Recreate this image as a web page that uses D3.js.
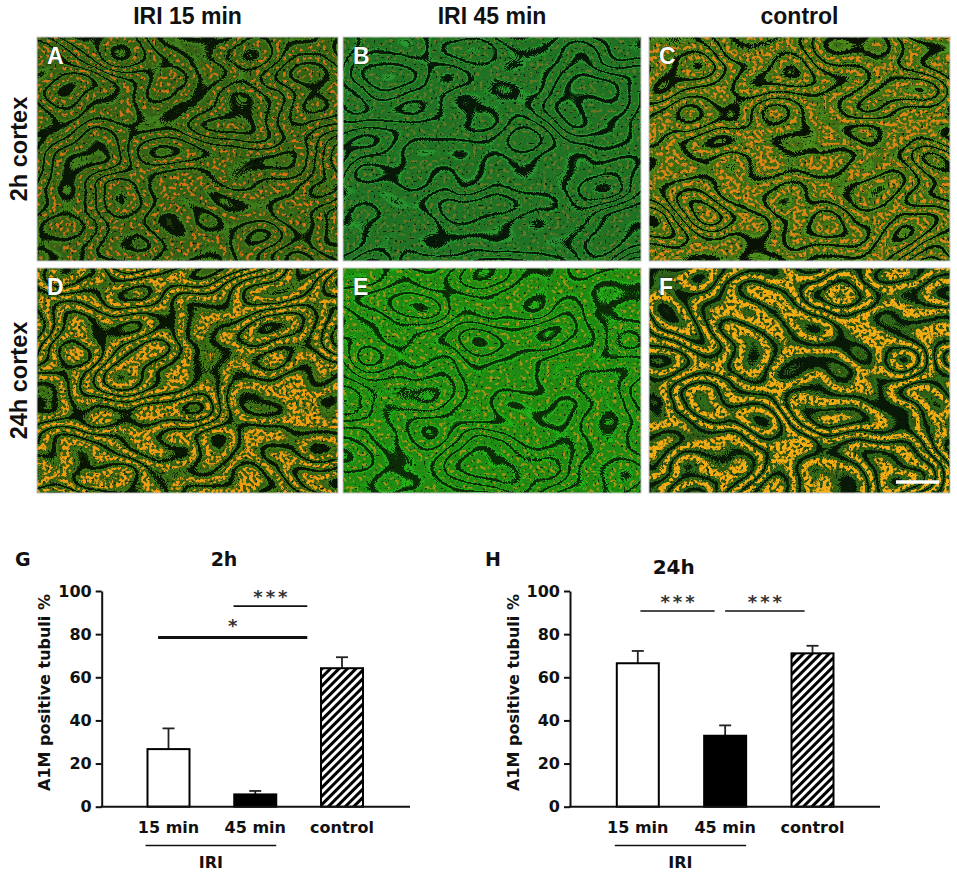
<!DOCTYPE html>
<html>
<head>
<meta charset="utf-8"/>
<title>A1M positive tubuli</title>
<style>
    body { margin: 0; background: #fff; }
    .hdr { font-family: "Liberation Sans", Arial, sans-serif; font-weight: bold; fill: #111; }
    .chart text { font-family: "DejaVu Sans", Verdana, sans-serif; font-weight: bold; fill: #111; }
</style>
</head>
<body>
<div id="fig"></div>
<script src="https://cdn.jsdelivr.net/npm/d3@7"></script>
<script>

    // ---- data ----
    var groups = ["15 min", "45 min", "control"];
    var mean2h = [26.7, 5.7, 64.2];
    var sem2h = [9.6, 1.6, 5.1];
    var mean24h = [66.5, 32.9, 71.1];
    var sem24h = [5.7, 4.8, 3.5];
    var yTicks = [0, 20, 40, 60, 80, 100];
    // significance: [from, to] in group index units, level in %, label
    var sig2h = [[0.75, 1.6, 93, "***"], [-0.12, 1.6, 78.5, "*"]];
    var sig24h = [[0.03, 0.88, 90.7, "***"], [1.0, 1.91, 90.7, "***"]];
    var colLabels = ["IRI 15 min", "IRI 45 min", "control"];
    var rowLabels = ["2h cortex", "24h cortex"];
    var panelLetters = ["A", "B", "C", "D", "E", "F"];

    // ---- layout ----
    var W = 957, H = 877;
    var colX = [[37, 338], [343, 641], [649, 950]];
    var rowY = [[37, 261], [268, 493]];

    // texture look of each micrograph (tubule colour, granule colour, background, granule threshold, seed)
    var looks = [
        {tub: [0.24, 0.46, 0.10], spk: [0.62, 0.06, 0.00], base: [0.02, 0.05, 0.01], th: 0.58, seed: 3},
        {tub: [0.14, 0.54, 0.16], spk: [0.28, 0.02, 0.00], base: [0.02, 0.05, 0.02], th: 0.62, seed: 11},
        {tub: [0.30, 0.54, 0.10], spk: [0.62, 0.10, 0.00], base: [0.01, 0.03, 0.01], th: 0.53, seed: 23},
        {tub: [0.24, 0.44, 0.08], spk: [0.74, 0.24, 0.00], base: [0.02, 0.05, 0.01], th: 0.50, seed: 37},
        {tub: [0.10, 0.56, 0.07], spk: [0.50, 0.04, 0.00], base: [0.04, 0.13, 0.02], th: 0.60, seed: 41},
        {tub: [0.18, 0.36, 0.08], spk: [0.80, 0.34, 0.00], base: [0.02, 0.07, 0.02], th: 0.46, seed: 53}
    ];

    var svg = d3.select("#fig")
        .append("svg")
        .attr("width", W)
        .attr("height", H);

    var defs = svg.append("defs");

    function smooth(a, b, t) {
        var u = Math.max(0, Math.min(1, (t - a) / (b - a)));
        return u * u * (3 - 2 * u);
    }

    function table(fn, n) {
        return d3.range(n + 1).map(i => fn(i / n).toFixed(3)).join(" ");
    }

    function funcs(node, values) {
        ["feFuncR", "feFuncG", "feFuncB"].forEach(f => {
            node.append(f).attr("type", "table").attr("tableValues", values);
        });
        node.append("feFuncA").attr("type", "linear").attr("slope", 0).attr("intercept", 1);
    }

    var grey = "1 0 0 0 0  1 0 0 0 0  1 0 0 0 0  0 0 0 0 1";
    var BANDS = 10;

    // tubule profile: dark gap, bright rim, softer body
    function tubule(t) {
        var c = Math.cos(2 * Math.PI * t * BANDS);
        var gap = smooth(-0.85, -0.65, c);
        var rim = 1 - smooth(-0.45, -0.2, c);
        return 0.08 + gap * (0.66 + 0.34 * rim);
    }

    // lumen: the middle of each tubule, where the granules sit
    function lumen(t) {
        var c = Math.cos(2 * Math.PI * t * BANDS);
        return smooth(0.05, 0.55, c);
    }

    function makeFilter(id, box, lk) {
        var f = defs.append("filter")
            .attr("id", id)
            .attr("filterUnits", "userSpaceOnUse")
            .attr("x", box[0]).attr("y", box[1])
            .attr("width", box[2]).attr("height", box[3])
            .attr("color-interpolation-filters", "sRGB");

        f.append("feTurbulence").attr("type", "fractalNoise")
            .attr("baseFrequency", "0.011 0.016").attr("numOctaves", 2)
            .attr("seed", lk.seed).attr("result", "n1");
        f.append("feColorMatrix").attr("in", "n1").attr("type", "matrix")
            .attr("values", grey).attr("result", "g1");
        funcs(f.append("feComponentTransfer").attr("in", "g1").attr("result", "tub"),
            table(tubule, 300));
        funcs(f.append("feComponentTransfer").attr("in", "g1").attr("result", "lum"),
            table(lumen, 300));

        // granules
        f.append("feTurbulence").attr("type", "fractalNoise")
            .attr("baseFrequency", 0.3).attr("numOctaves", 1)
            .attr("seed", lk.seed + 5).attr("result", "n2");
        f.append("feColorMatrix").attr("in", "n2").attr("type", "matrix")
            .attr("values", grey).attr("result", "g2");
        funcs(f.append("feComponentTransfer").attr("in", "g2").attr("result", "spk"),
            table(t => smooth(lk.th - 0.08, lk.th + 0.05, t), 60));

        // nuclei (dark dots)
        f.append("feTurbulence").attr("type", "fractalNoise")
            .attr("baseFrequency", 0.42).attr("numOctaves", 1)
            .attr("seed", lk.seed + 9).attr("result", "n3");
        f.append("feColorMatrix").attr("in", "n3").attr("type", "matrix")
            .attr("values", grey).attr("result", "g3");
        funcs(f.append("feComponentTransfer").attr("in", "g3").attr("result", "nuc"),
            table(t => 1 - 0.7 * smooth(0.66, 0.72, t), 60));

        f.append("feComposite").attr("in", "lum").attr("in2", "spk")
            .attr("operator", "arithmetic").attr("k1", 1).attr("result", "ts");
        f.append("feColorMatrix").attr("in", "tub").attr("type", "matrix")
            .attr("values", [lk.tub[0], 0, 0, 0, lk.base[0],
                lk.tub[1], 0, 0, 0, lk.base[1],
                lk.tub[2], 0, 0, 0, lk.base[2],
                0, 0, 0, 0, 1].join(" "))
            .attr("result", "cTub");
        f.append("feColorMatrix").attr("in", "ts").attr("type", "matrix")
            .attr("values", [lk.spk[0], 0, 0, 0, 0,
                lk.spk[1], 0, 0, 0, 0,
                lk.spk[2], 0, 0, 0, 0,
                0, 0, 0, 0, 1].join(" "))
            .attr("result", "cSpk");
        f.append("feComposite").attr("in", "cTub").attr("in2", "cSpk")
            .attr("operator", "arithmetic").attr("k2", 1).attr("k3", 1).attr("result", "col");
        f.append("feComposite").attr("in", "col").attr("in2", "nuc")
            .attr("operator", "arithmetic").attr("k1", 1).attr("result", "img");
        f.append("feGaussianBlur").attr("in", "img").attr("stdDeviation", 0.5);
    }

    // ---- micrograph panels ----
    var panels = svg.append("g").attr("id", "panels");

    panelLetters.forEach((L, i) => {
        var r = Math.floor(i / 3), c = i % 3;
        var x0 = colX[c][0], x1 = colX[c][1], y0 = rowY[r][0], y1 = rowY[r][1];
        var box = [x0, y0, x1 - x0, y1 - y0];
        makeFilter("tex_" + L, box, looks[i]);

        panels.append("rect")
            .attr("x", x0).attr("y", y0)
            .attr("width", x1 - x0).attr("height", y1 - y0)
            .attr("fill", "#000")
            .attr("filter", "url(#tex_" + L + ")");
        panels.append("rect")
            .attr("x", x0).attr("y", y0)
            .attr("width", x1 - x0).attr("height", y1 - y0)
            .attr("fill", "none")
            .attr("stroke", "#c8c8c8")
            .attr("stroke-width", 1);
        panels.append("text")
            .attr("class", "hdr")
            .attr("x", x0 + 10).attr("y", y0 + 27)
            .style("fill", "#fff")
            .style("stroke", "rgba(0,0,0,0.5)")
            .style("stroke-width", 1)
            .style("paint-order", "stroke")
            .style("font-size", "23px")
            .text(L);
    });

    // scale bar in F
    panels.append("line")
        .attr("x1", 896).attr("x2", 939)
        .attr("y1", 482).attr("y2", 482)
        .attr("stroke", "#fff").attr("stroke-width", 3.5);

    // column and row headers
    colLabels.forEach((t, c) => {
        svg.append("text")
            .attr("class", "hdr")
            .attr("x", (colX[c][0] + colX[c][1]) / 2)
            .attr("y", 24)
            .attr("text-anchor", "middle")
            .style("font-size", "23px")
            .text(t);
    });

    rowLabels.forEach((t, r) => {
        svg.append("text")
            .attr("class", "hdr")
            .attr("transform", "translate(26.5," + (rowY[r][0] + rowY[r][1]) / 2 + ") rotate(-90)")
            .attr("text-anchor", "middle")
            .style("font-size", "23.5px")
            .text(t);
    });

    // ---- bar charts ----
    var hatch = defs.append("pattern")
        .attr("id", "hatch")
        .attr("patternUnits", "userSpaceOnUse")
        .attr("width", 6).attr("height", 6)
        .attr("patternTransform", "rotate(45)");
    hatch.append("rect").attr("width", 6).attr("height", 6).attr("fill", "#000");
    hatch.append("rect").attr("width", 3).attr("height", 6).attr("fill", "#fff");

    var fills = ["#fff", "#000", "url(#hatch)"];

    var charts = [
        {letter: "G", title: "2h", mean: mean2h, sem: sem2h, sig: sig2h,
            axisX: 101.7, xEnd: 410, c0: 168.5, c2: 342,
            letterX: 15, titleX: 224, titleY: 566, titleSize: 19, labelX: 50},
        {letter: "H", title: "24h", mean: mean24h, sem: sem24h, sig: sig24h,
            axisX: 570, xEnd: 880, c0: 637.8, c2: 812.5,
            letterX: 485, titleX: 673.7, titleY: 574, titleSize: 20, labelX: 519}
    ];

    var y = d3.scaleLinear().domain([0, 100]).range([806.7, 591]);
    var barW = 42;

    charts.forEach(ch => {
        var g = svg.append("g").attr("class", "chart");
        var x = d3.scalePoint().domain(groups).range([ch.c0, ch.c2]);
        var xi = d3.scaleLinear().domain([0, groups.length - 1]).range([ch.c0, ch.c2]);

        g.append("text")
            .attr("x", ch.letterX).attr("y", 566)
            .style("font-size", "19px")
            .text(ch.letter);

        g.append("text")
            .attr("x", ch.titleX).attr("y", ch.titleY)
            .attr("text-anchor", "middle")
            .style("font-size", ch.titleSize + "px")
            .text(ch.title);

        // y axis
        var ax = g.append("g")
            .attr("transform", "translate(" + ch.axisX + ",0)")
            .call(d3.axisLeft(y).tickValues(yTicks).tickSize(6).tickSizeOuter(0).tickPadding(4));
        ax.attr("font-family", null).attr("font-size", null);
        ax.select(".domain").attr("stroke", "#111").attr("stroke-width", 2);
        ax.selectAll(".tick line").attr("stroke", "#111").attr("stroke-width", 2);
        ax.selectAll(".tick text").style("font-size", "16px").attr("fill", "#111");

        g.append("text")
            .attr("transform", "translate(" + ch.labelX + ",692.5) rotate(-90)")
            .attr("text-anchor", "middle")
            .style("font-size", "16px")
            .text("A1M positive tubuli %");

        // error bars (upper whisker)
        var err = g.append("g");
        groups.forEach((k, i) => {
            var cx = x(k), top = y(ch.mean[i] + ch.sem[i]);
            err.append("line")
                .attr("x1", cx).attr("x2", cx)
                .attr("y1", y(ch.mean[i])).attr("y2", top)
                .attr("stroke", "#222").attr("stroke-width", 1.8);
            err.append("line")
                .attr("x1", cx - 6).attr("x2", cx + 6)
                .attr("y1", top).attr("y2", top)
                .attr("stroke", "#222").attr("stroke-width", 1.8);
        });

        // bars
        g.selectAll("rect.bar")
            .data(groups)
            .enter()
            .append("rect")
            .attr("class", "bar")
            .attr("x", d => x(d) - barW / 2)
            .attr("width", barW)
            .attr("y", (d, i) => y(ch.mean[i]))
            .attr("height", (d, i) => y(0) - y(ch.mean[i]))
            .attr("fill", (d, i) => fills[i])
            .attr("stroke", "#000")
            .attr("stroke-width", 2);

        // x axis
        g.append("line")
            .attr("x1", ch.axisX - 1).attr("x2", ch.xEnd)
            .attr("y1", y(0)).attr("y2", y(0))
            .attr("stroke", "#111").attr("stroke-width", 2);

        g.selectAll("text.xl")
            .data(groups)
            .enter()
            .append("text")
            .attr("class", "xl")
            .attr("x", d => x(d))
            .attr("y", 832.5)
            .attr("text-anchor", "middle")
            .style("font-size", "16px")
            .text(d => d);

        // IRI bracket under the two ischaemia groups
        var bx0 = x(groups[0]) - barW / 2 - 2, bx1 = x(groups[1]) + barW / 2;
        g.append("line")
            .attr("x1", bx0).attr("x2", bx1)
            .attr("y1", 845.5).attr("y2", 845.5)
            .attr("stroke", "#111").attr("stroke-width", 1.5);
        g.append("text")
            .attr("x", (bx0 + bx1) / 2).attr("y", 868)
            .attr("text-anchor", "middle")
            .style("font-size", "16px")
            .text("IRI");

        // significance lines
        ch.sig.forEach(s => {
            var xa = xi(s[0]), xb = xi(s[1]), ly = y(s[2]);
            var single = s[3].length === 1;
            g.append("line")
                .attr("x1", xa).attr("x2", xb)
                .attr("y1", ly).attr("y2", ly)
                .attr("stroke", "#111").attr("stroke-width", single ? 3 : 1.6);
            g.append("text")
                .attr("x", (xa + xb) / 2 + 1.5).attr("y", ly - (single ? 5 : 3.5))
                .attr("text-anchor", "middle")
                .style("font-size", "18px")
                .style("letter-spacing", "3px")
                .style("fill", "#333")
                .text(s[3]);
        });
    });

</script>
</body>
</html>
